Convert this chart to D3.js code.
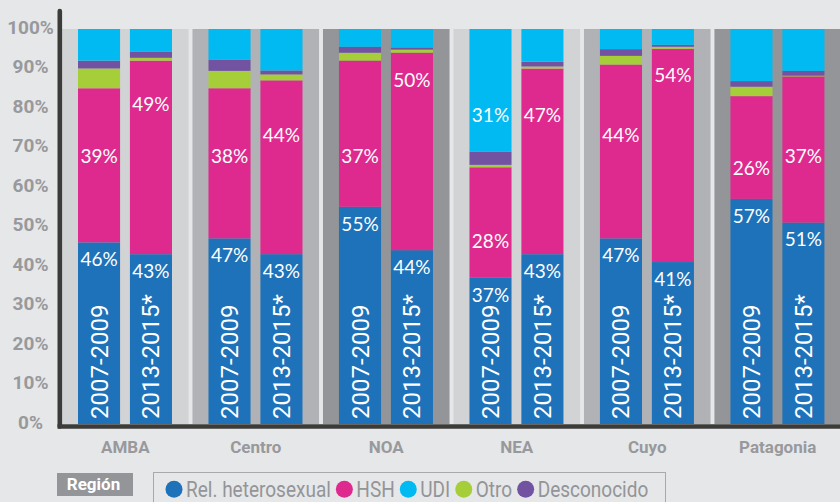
<!DOCTYPE html>
<html>
<head>
<meta charset="utf-8">
<script src="https://cdn.jsdelivr.net/npm/d3@7"></script>
<style>
  body { margin: 0; background: #e6e7e8; }
  svg { display: block; }
</style>
</head>
<body>
<svg id="chart" width="840" height="502"></svg>
<script>
// ---- data -------------------------------------------------------------
const regions = ["AMBA", "Centro", "NOA", "NEA", "Cuyo", "Patagonia"];
const periods = ["2007-2009", "2013-2015*"];
const categories = ["Rel. heterosexual", "HSH", "UDI", "Otro", "Desconocido"];
const yTicks = [0, 10, 20, 30, 40, 50, 60, 70, 80, 90, 100];

// one value per bar: AMBA 07-09, AMBA 13-15, Centro 07-09, Centro 13-15, ...
const relHetero   = [46, 43, 47, 43, 55, 44, 37, 43, 47, 41, 57, 51];
const hsh         = [39, 49, 38, 44, 37, 50, 28, 47, 44, 54, 26, 37];
const otro        = [5, 0.7, 4.4, 1.5, 2, 0.8, 0.6, 0.5, 2.2, 0.5, 2.4, 0.2];
const desconocido = [2, 1.5, 2.8, 1, 1.5, 0.5, 3.4, 1.2, 1.7, 0.5, 1.4, 1.2];
const udi         = [8, 5.8, 7.8, 10.5, 4.5, 4.7, 31, 8.3, 5.1, 4, 13.2, 10.6];

// ---- layout / style ---------------------------------------------------
const W = 840, H = 502;
const colors = {
  hetero: "#1e72b9", hsh: "#de2a8e", udi: "#00baf1", otro: "#a6ce39", desc: "#7153a2"
};
const legendColors = [colors.hetero, colors.hsh, colors.udi, colors.otro, colors.desc];
const bandColors = ["#d1d3d4", "#b0b2b5", "#939598"];
// vertical level (in %) where the upper value label of each bar sits
const hshLabelLevel = [67.8, 81, 67.8, 73.2, 67.8, 87, 46.3, 78.2, 73.2, 88.4, 64.8, 67.8];
const udiLabelLevel = 78.2;

const rows = regions.flatMap((r, i) => periods.map((p, j) => {
  const k = i * 2 + j;
  return { region: r, period: p, k,
           hetero: relHetero[k], hsh: hsh[k], otro: otro[k], desc: desconocido[k], udi: udi[k] };
}));

const svg = d3.select("#chart");
svg.append("rect").attr("width", W).attr("height", H).attr("fill", "#e6e7e8");

const x = d3.scaleBand().domain(regions).range([62, 841]).paddingInner(0.03);
const xp = d3.scaleBand().domain(periods).range([16, 110]).paddingInner(0.19);
const y = d3.scaleLinear().domain([0, 100]).range([424, 29]);

// region backdrop bands
svg.append("g").selectAll("rect").data(regions).join("rect")
  .attr("x", d => x(d))
  .attr("y", y(100))
  .attr("width", x.bandwidth())
  .attr("height", y(0) - y(100))
  .attr("fill", (d, i) => bandColors[i % 3]);

// stacked bars
const keys = ["hetero", "hsh", "otro", "desc", "udi"];
const stacked = d3.stack().keys(keys)(rows);
const barX = d => x(d.region) + xp(d.period);

svg.append("g").selectAll("g").data(stacked).join("g")
  .attr("fill", s => colors[s.key])
  .selectAll("rect").data(s => s).join("rect")
    .attr("x", d => barX(d.data))
    .attr("y", d => y(d[1]))
    .attr("width", xp.bandwidth())
    .attr("height", d => y(d[0]) - y(d[1]));

// period labels inside the bars, rotated
svg.append("g").selectAll("text").data(rows).join("text")
  .attr("transform", d => `translate(${barX(d) + xp.bandwidth() / 2 + 8.5},${y(0) - 5}) rotate(-90)`)
  .attr("fill", "#fff")
  .attr("font-family", "Roboto, 'Noto Sans', sans-serif")
  .attr("font-size", 24)
  .text(d => d.period);

// value labels
const valueFont = "Lato, 'Open Sans', sans-serif";
const vl = svg.append("g")
  .attr("fill", "#fff")
  .attr("font-family", valueFont)
  .attr("font-size", 19)
  .attr("text-anchor", "middle");

vl.selectAll("text.het").data(rows).join("text").attr("class", "het")
  .attr("x", d => barX(d) + xp.bandwidth() / 2)
  .attr("y", d => y(d.hetero) + 17)
  .attr("dy", "0.36em")
  .text(d => d.hetero + "%");

vl.selectAll("text.hsh").data(rows).join("text").attr("class", "hsh")
  .attr("x", d => barX(d) + xp.bandwidth() / 2)
  .attr("y", d => y(hshLabelLevel[d.k]))
  .attr("dy", "0.36em")
  .text(d => d.hsh + "%");

vl.selectAll("text.udi").data(rows.filter(d => d.udi >= 20)).join("text").attr("class", "udi")
  .attr("x", d => barX(d) + xp.bandwidth() / 2)
  .attr("y", y(udiLabelLevel))
  .attr("dy", "0.36em")
  .text(d => d.udi + "%");

// y axis labels
const yAxis = d3.axisLeft(y).tickValues(yTicks).tickSize(0).tickPadding(0)
  .tickFormat(d => d + "%");
const ga = svg.append("g").attr("transform", "translate(30.5,-2)").call(yAxis);
ga.select(".domain").remove();
ga.selectAll("text")
  .attr("x", 0)
  .attr("text-anchor", "middle")
  .attr("fill", "#98999c")
  .attr("font-family", "Roboto, sans-serif")
  .attr("font-weight", 700)
  .attr("font-size", 19);

// axis lines
svg.append("path")
  .attr("d", `M59.8,11V${y(0) + 2.5}`)
  .attr("stroke", "#3b3b3a").attr("stroke-width", 4.6).attr("stroke-linecap", "round");
svg.append("path")
  .attr("d", `M57.5,${y(0) + 2.5}H${W}`)
  .attr("stroke", "#3b3b3a").attr("stroke-width", 4.6);

// region names
svg.append("g").selectAll("text").data(regions).join("text")
  .attr("x", d => x(d) + x.bandwidth() / 2)
  .attr("y", 453)
  .attr("text-anchor", "middle")
  .attr("fill", "#98999c")
  .attr("font-family", "Roboto, sans-serif")
  .attr("font-weight", 700)
  .attr("font-size", 17)
  .text(d => d);

// legend
svg.append("rect")
  .attr("x", 57).attr("y", 473).attr("width", 76).attr("height", 23)
  .attr("fill", "#939598");
svg.append("text")
  .attr("x", 93.5).attr("y", 489.5)
  .attr("text-anchor", "middle")
  .attr("fill", "#fff")
  .attr("font-family", "Roboto, sans-serif")
  .attr("font-weight", 700)
  .attr("font-size", 17)
  .text("Región");

svg.append("rect")
  .attr("x", 153.5).attr("y", 472.5).attr("width", 512).attr("height", 40)
  .attr("fill", "none").attr("stroke", "#a7a9ac").attr("stroke-width", 1);

const lg = svg.append("g");
let cursor = 165.5;
const squeeze = 0.865;
categories.forEach((c, i) => {
  lg.append("circle")
    .attr("cx", cursor + 8.5).attr("cy", 489.3).attr("r", 8.5)
    .attr("fill", legendColors[i]);
  const tx = cursor + 20.5;
  const t = lg.append("g").attr("transform", `translate(${tx},496.8) scale(${squeeze},1)`)
    .append("text")
    .attr("fill", "#939598")
    .attr("font-family", "Roboto, sans-serif")
    .attr("font-size", 22)
    .text(c);
  const w = t.node().getComputedTextLength() * squeeze;
  cursor = tx + w + 5;
});
</script>
</body>
</html>
